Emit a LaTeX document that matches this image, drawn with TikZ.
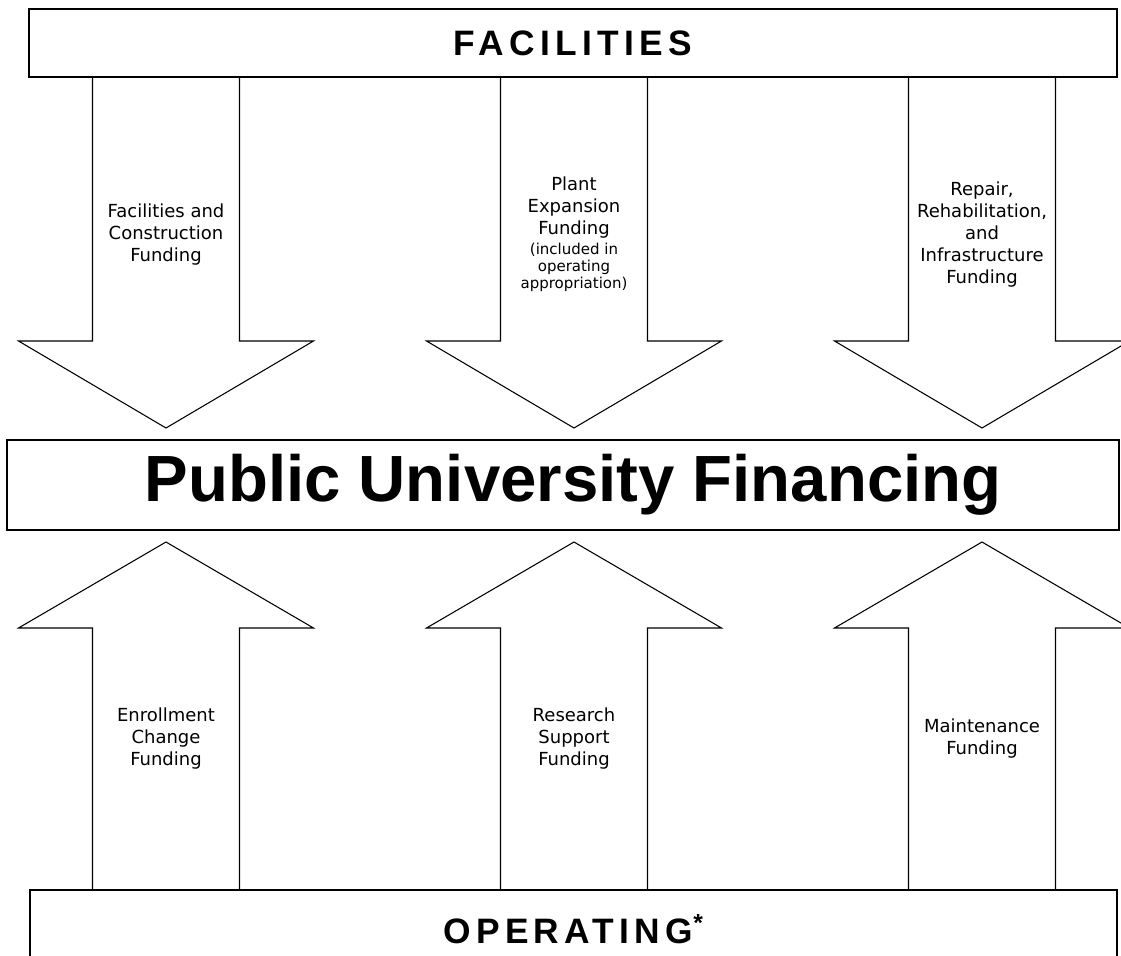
\documentclass[tikz,border=0pt]{standalone}
\usepackage{fontspec}
\setmainfont{DejaVu Sans}
\newfontfamily\headfont[LetterSpace=15]{Liberation Sans}
\newfontfamily\titlefont{Liberation Sans}
\usetikzlibrary{positioning}
\newdimen\px
\px=0.75pt
\tikzstyle{bigbox} = [
    rectangle,
    draw=black,
    line width=0.8pt,
    inner sep=0pt
]
\tikzstyle{heading} = [
    bigbox,
    font=\headfont\bfseries\fontsize{26.5}{30}\selectfont
]
\tikzstyle{titlebox} = [
    bigbox,
    font=\titlefont\bfseries\fontsize{49}{56}\selectfont
]
\tikzstyle{flowlabel} = [
    align=center,
    inner sep=0pt,
    font=\fontsize{13.5}{16.5}\selectfont
]
\tikzstyle{note} = [
    align=center,
    inner sep=0pt,
    font=\fontsize{11.25}{12.75}\selectfont
]
\tikzstyle{blockarrow} = [draw=black, line width=0.8pt, line join=miter]

\begin{document}
\begin{tikzpicture}[x=\px, y=-\px]

\fill [white] (0,0) rectangle (1121,956);
\useasboundingbox (0,0) rectangle (1121,956);
\clip (0,0) rectangle (1121,956);

% Arrows
\foreach \c in {166,574,982} {
    \draw [blockarrow] (\c-73.5,77) -- (\c-73.5,341) -- (\c-147.5,341) -- (\c,428) -- (\c+147.5,341) -- (\c+73.5,341) -- (\c+73.5,77);
    \draw [blockarrow] (\c-73.5,890) -- (\c-73.5,628) -- (\c-147.5,628) -- (\c,542) -- (\c+147.5,628) -- (\c+73.5,628) -- (\c+73.5,890);
}

% Nodes
\node (facilities) [heading, minimum width=1088\px, minimum height=68\px] at (573,43) {FACILITIES};
\node (financing) [titlebox, minimum width=1112\px, minimum height=90\px] at (563,485) {\hspace{20\px}Public University Financing};
\node (operating) [heading, minimum width=1087\px, minimum height=79\px] at (573.5,929.5) {OPERATING\textsuperscript{*}};

% Labels
\node (lblFacilities) [flowlabel] at (166,235) {Facilities and\\Construction\\Funding};
\node (lblPlant) [flowlabel] at (574,208) {Plant\\Expansion\\Funding};
\node (lblPlantNote) [note, below=3pt of lblPlant] {(included in\\operating\\appropriation)};
\node (lblRepair) [flowlabel] at (982,235) {Repair,\\Rehabilitation,\\and\\Infrastructure\\Funding};
\node (lblEnrollment) [flowlabel] at (166,739) {Enrollment\\Change\\Funding};
\node (lblResearch) [flowlabel] at (574,739) {Research\\Support\\Funding};
\node (lblMaintenance) [flowlabel] at (982,739) {Maintenance\\Funding};

\end{tikzpicture}
\end{document}
